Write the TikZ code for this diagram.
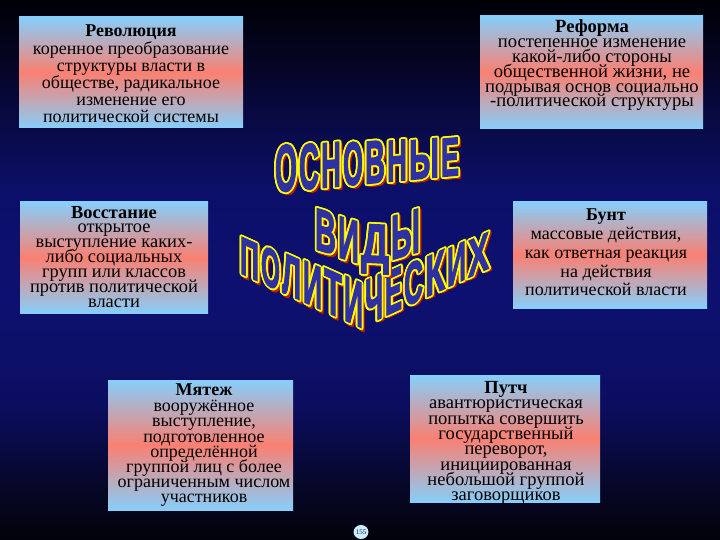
\documentclass[tikz,border=0pt]{standalone}
\usepackage{fontspec}
\usepackage{graphicx}
\usetikzlibrary{shapes.geometric}
\setmainfont{Liberation Serif}
\newfontfamily\wafont[FakeBold=2.5]{Liberation Sans}
\definecolor{lsb}{RGB}{135,206,250}
\definecolor{slm}{RGB}{250,128,114}
\definecolor{wblu}{RGB}{48,48,165}
\definecolor{wyel}{RGB}{255,255,0}
\definecolor{wred}{RGB}{190,30,0}
\definecolor{bgA}{RGB}{2,2,10}
\definecolor{bgB}{RGB}{6,7,40}
\definecolor{bgC}{RGB}{11,14,95}
\definecolor{bgD}{RGB}{13,16,112}
\definecolor{bgE}{RGB}{12,15,105}
\definecolor{bgF}{RGB}{5,5,38}
\definecolor{bgG}{RGB}{0,0,6}
\definecolor{pgfill}{RGB}{205,238,255}
\definecolor{pgtext}{RGB}{10,20,90}
\pgfdeclareverticalshading{bgsh}{100bp}{color(0bp)=(bgA); color(25bp)=(bgA); color(30bp)=(bgB); color(37.5bp)=(bgC); color(47.5bp)=(bgD); color(57.5bp)=(bgE); color(69bp)=(bgF); color(75bp)=(bgG); color(100bp)=(bgG)}
\newcommand\tightls{\lineskiplimit-20pt\relax}
\newcommand\bfs[2]{\fontsize{#1}{#2}\selectfont\tightls}
\tikzset{
  box/.style={shading=axis, top color=lsb, bottom color=lsb, middle color=slm, draw=none, inner sep=0, outer sep=0, anchor=north west},
  btxt/.style={align=center, inner sep=0, outer sep=0, anchor=north, text=black},
  wlet/.style={anchor=base west, inner sep=0, outer sep=0, transform shape, font=\wafont\bfseries},
}
% #1 id, #2 x, #3 baseline y, #4 width, #5 height, #6 yslant (canvas), #7 letter
\newcommand\wl[7]{%
  \begin{scope}[shift={(#2,#3)}, yslant=#6]
    \foreach \dx/\dy [count=\k] in {2.9/-2.9, 2.5/-1.9, 1.9/-2.5, 2.9/-1.8, 1.8/-2.9}{%
      \node[wlet,text=wred] (#1s\k) at (\dx pt,\dy pt) {\resizebox{#4pt}{#5pt}{#7}};}
    \foreach \a [count=\k] in {0,30,...,330}{%
      \node[wlet,text=wyel] (#1y\k) at (\a:1.8pt) {\resizebox{#4pt}{#5pt}{#7}};}
    \node[wlet,text=wblu] (#1) at (0,0) {\resizebox{#4pt}{#5pt}{#7}};
  \end{scope}}
\newcommand\rl{\rule{0pt}{13pt}}
\begin{document}
\begin{tikzpicture}[x=1pt,y=-1pt]
\useasboundingbox (0,0) rectangle (720,540);
\path[shading=bgsh] (0,0) rectangle (720,540);

% boxes
\node[box, minimum width=224pt, minimum height=111pt] (rev) at (19,17) {};
\node[box, minimum width=223pt, minimum height=113pt] (ref) at (480,16) {};
\node[box, minimum width=188pt, minimum height=111pt] (vos) at (20,202) {};
\node[box, minimum width=194pt, minimum height=106pt] (bun) at (513,202) {};
\node[box, minimum width=185pt, minimum height=130pt] (mya) at (108,380) {};
\node[box, minimum width=190pt, minimum height=127pt] (put) at (410,375) {};

% texts
\node[btxt, font=\bfs{18}{17.2}] (revt) at (131,24) {\rl\textbf{Революция}\\коренное преобразование\\структуры власти в\\обществе, радикальное\\изменение его\\политической системы};
\node[btxt, font=\bfs{18.6}{14.8}] (reft) at (592,20) {\rl\textbf{Реформа}\\постепенное изменение\\какой-либо стороны\\общественной жизни, не\\подрывая основ социально\\-политической структуры};
\node[btxt, font=\bfs{18.4}{14.9}] (vost) at (114,205) {\rl\textbf{Восстание}\\открытое\\выступление каких-\\либо социальных\\групп или классов\\против политической\\власти};
\node[btxt, font=\bfs{18}{18.7}] (bunt) at (606,207) {\rl\textbf{Бунт}\\[1pt]массовые действия,\\как ответная реакция\\на действия\\политической власти};
\node[btxt, font=\bfs{18}{15.2}] (myat) at (204,382.5) {\rl\textbf{Мятеж}\\[1pt]вооружённое\\выступление,\\подготовленное\\определённой\\группой лиц с более\\ограниченным числом\\участников};
\node[btxt, font=\bfs{18.5}{15.3}] (putt) at (506,380.5) {\rl\textbf{Путч}\\авантюристическая\\попытка совершить\\государственный\\переворот,\\инициированная\\небольшой группой\\заговорщиков};

% WordArt: ПОЛИТИЧЕСКИХ
\wl{c1}{240}{273}{19}{36.7}{-0.45}{П}
\wl{c2}{261}{282.5}{19}{38.3}{-0.45}{О}
\wl{c3}{282}{291.9}{19}{39.8}{-0.45}{Л}
\wl{c4}{303}{301.4}{19}{41.4}{-0.45}{И}
\wl{c5}{324}{310.8}{18}{42.9}{-0.45}{Т}
\wl{c6}{344}{319.7}{19}{44.4}{-0.45}{И}
\wl{c7}{365}{325.2}{18}{44}{0.46}{Ч}
\wl{c8}{385}{316}{17}{42.6}{0.46}{Е}
\wl{c9}{404}{307.2}{19}{41.1}{0.46}{С}
\wl{c10}{425}{297.6}{20}{39.5}{0.46}{К}
\wl{c11}{447}{287.4}{19}{37.9}{0.46}{И}
\wl{c12}{468}{277.8}{21}{36.3}{0.46}{Х}
% ВИДЫ
\wl{b1}{315}{249}{21}{41}{-0.3}{В}
\wl{b2}{338}{257}{21}{41}{-0.3}{И}
\wl{b3}{361}{262}{28}{38}{-0.05}{Д}
\wl{b4}{391}{260}{29}{43}{0.3}{Ы}
% ОСНОВНЫЕ
\wl{a1}{275}{192}{22}{46.4}{0.092}{О}
\wl{a2}{299}{189.8}{20}{45.2}{0.092}{С}
\wl{a3}{321}{187.8}{20}{44}{0.092}{Н}
\wl{a4}{343}{185.7}{20}{42.8}{0.092}{О}
\wl{a5}{365}{183.7}{20}{41.6}{0.092}{В}
\wl{a6}{387}{181.7}{20}{40.4}{0.092}{Н}
\wl{a7}{409}{179.7}{30}{38.9}{0.092}{Ы}
\wl{a8}{441}{176.7}{18}{37.5}{0.092}{Е}

% page number
\node[ellipse, fill=pgfill, minimum width=13pt, minimum height=14pt, inner sep=0, text=pgtext, font=\fontsize{7}{7}\selectfont] (pg) at (361,532) {155};
\end{tikzpicture}
\end{document}
